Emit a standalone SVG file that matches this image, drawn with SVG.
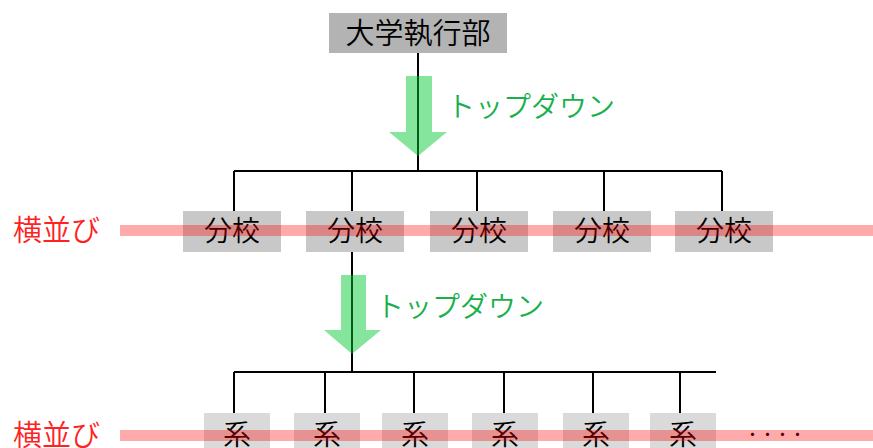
<svg xmlns="http://www.w3.org/2000/svg" width="873" height="448" viewBox="0 0 873 448">
<style>
text{font-family:"Noto Sans CJK JP","Noto Sans CJK SC",sans-serif;font-weight:350;}
.lbl{font-size:28px;fill:#000;text-anchor:middle;}
.top{fill:#b3b3b3;}
.br{fill:#c8c8c8;}
.dp{fill:#dadada;}
.ln{stroke:#000;stroke-width:2;fill:none;}
.arrow{fill:rgb(0,200,50);fill-opacity:0.48;}
.td{font-size:28px;fill:#19b04b;}
.band{fill:#ff0000;fill-opacity:0.33;}
.side{font-size:29px;fill:#ff2222;}
</style>
<g id="connectors">
<path class="ln" d="M418 53V171M234 171H722M234 171V211M352 171V252M477 171V211M604 171V211M722 171V211"/>
<path class="ln" d="M352 252V372M234 372H716M234 372V413M325 372V413M414 372V413M504 372V413M593 372V413M680 372V413"/>
</g>
<g id="node-exec"><rect class="top" x="329" y="13" width="178" height="40"/><text class="lbl" x="418" y="44" style="font-size:29px">大学執行部</text></g>
<g id="node-branch1"><rect class="br" x="183" y="211" width="98" height="41"/><text class="lbl" x="232" y="241">分校</text></g>
<g id="node-branch2"><rect class="br" x="306" y="211" width="98" height="41"/><text class="lbl" x="355" y="241">分校</text></g>
<g id="node-branch3"><rect class="br" x="430" y="211" width="98" height="41"/><text class="lbl" x="479" y="241">分校</text></g>
<g id="node-branch4"><rect class="br" x="553" y="211" width="98" height="41"/><text class="lbl" x="602" y="241">分校</text></g>
<g id="node-branch5"><rect class="br" x="675" y="211" width="98" height="41"/><text class="lbl" x="724" y="241">分校</text></g>
<g id="node-dept1"><rect class="dp" x="204" y="413" width="66" height="41"/><text class="lbl" x="237" y="445">系</text></g>
<g id="node-dept2"><rect class="dp" x="294" y="413" width="66" height="41"/><text class="lbl" x="327" y="445">系</text></g>
<g id="node-dept3"><rect class="dp" x="382" y="413" width="66" height="41"/><text class="lbl" x="415" y="445">系</text></g>
<g id="node-dept4"><rect class="dp" x="472" y="413" width="66" height="41"/><text class="lbl" x="505" y="445">系</text></g>
<g id="node-dept5"><rect class="dp" x="563" y="413" width="66" height="41"/><text class="lbl" x="596" y="445">系</text></g>
<g id="node-dept6"><rect class="dp" x="650" y="413" width="66" height="41"/><text class="lbl" x="683" y="445">系</text></g>
<text x="745" y="440" style="font-size:15px;fill:#000;font-weight:400">・・・・</text>
<g id="arrows">
<polygon class="arrow" points="406,76 432,76 432,132 447,132 418,156 389,132 406,132"/>
<text class="td" x="447" y="117">トップダウン</text>
<polygon class="arrow" points="341,275 366,275 366,330 381,330 352,354 324,330 341,330"/>
<text class="td" x="376" y="317">トップダウン</text>
</g>
<g id="bands">
<rect class="band" x="120" y="225" width="753" height="11"/>
<rect class="band" x="120" y="430" width="753" height="11"/>
<text class="side" x="13" y="241">横並び</text>
<text class="side" x="13" y="446">横並び</text>
</g>
</svg>
